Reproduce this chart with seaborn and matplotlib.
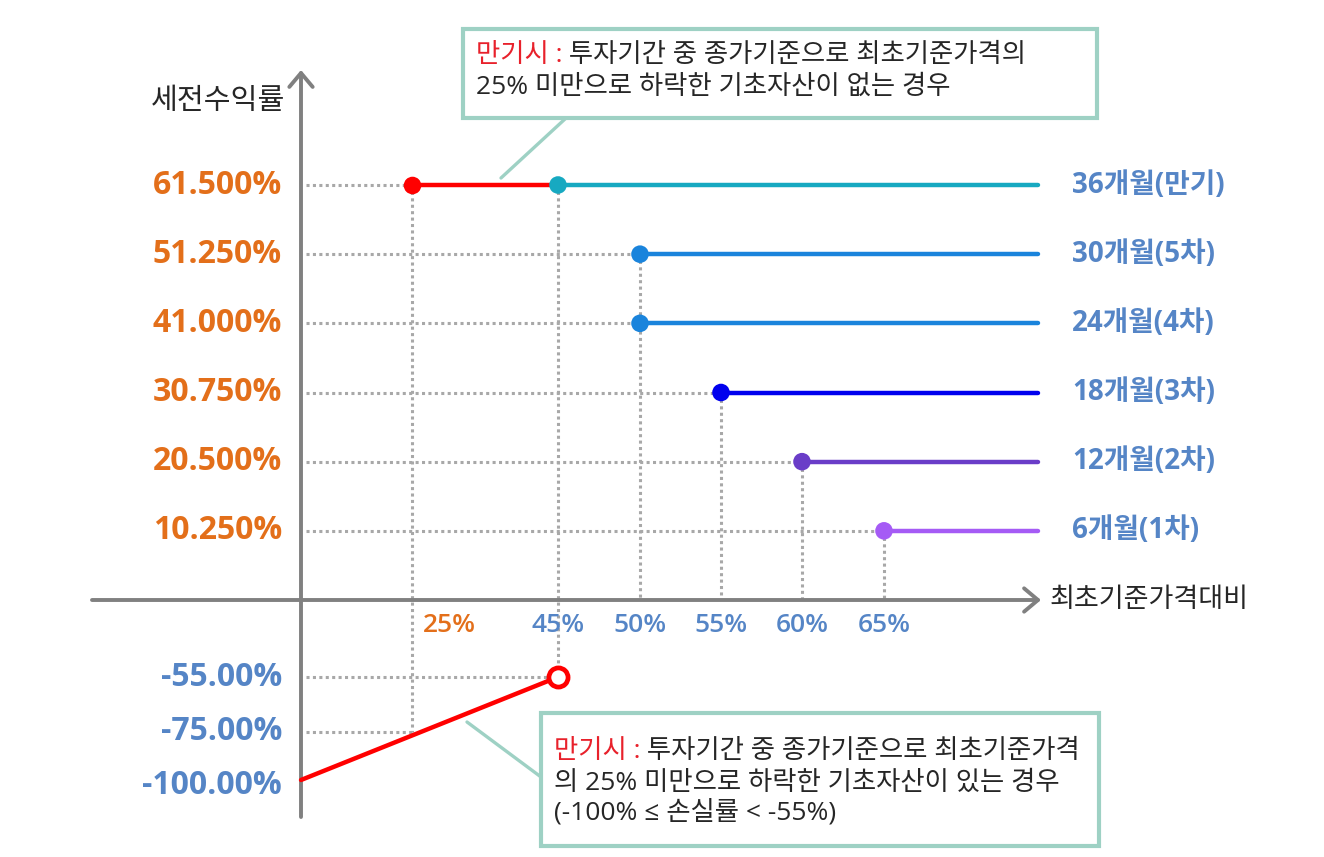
import numpy as np
import pandas as pd
import matplotlib
matplotlib.use("Agg")
import matplotlib.pyplot as plt
import seaborn as sns
from matplotlib.patches import Rectangle
from matplotlib.lines import Line2D
from matplotlib.text import Annotation

# ---------------- data ----------------
periods = ["6개월(1차)", "12개월(2차)", "18개월(3차)", "24개월(4차)", "30개월(5차)", "36개월(만기)"]
barriers = [65, 60, 55, 50, 50, 45]              # % of initial price
returns = [10.25, 20.5, 30.75, 41.0, 51.25, 61.5]  # pre-tax return %
return_labels = ["10.250%", "20.500%", "30.750%", "41.000%", "51.250%", "61.500%"]
series_colors = ["#A55BF5", "#6A3DC8", "#0000EE", "#1A84DC", "#1A84DC", "#17A9C1"]

knock_in = 25                     # 25% knock-in barrier
loss_x = [0, 45]                  # loss line at maturity
loss_y = [-100, -55]
neg_values = [-55, -75, -100]
neg_labels = ["-55.00%", "-75.00%", "-100.00%"]

x_ticks = [25, 45, 50, 55, 60, 65]
x_tick_labels = ["25%", "45%", "50%", "55%", "60%", "65%"]

y_title = "세전수익률"
x_title = "최초기준가격대비"
box1_red = "만기시 :"
box1_lines = [" 투자기간 중 종가기준으로 최초기준가격의", "25% 미만으로 하락한 기초자산이 없는 경우"]
box2_red = "만기시 :"
box2_lines = [" 투자기간 중 종가기준으로 최초기준가격", "의 25% 미만으로 하락한 기초자산이 있는 경우",
              "(-100% ≤ 손실률 < -55%)"]

# ---------------- style ----------------
W, H = 1324, 857
sns.set_theme(style="white")
FAM = ["Open Sans", "Noto Sans CJK KR", "DejaVu Sans"]
plt.rcParams["font.family"] = FAM

ORANGE = "#E36F1A"
BLUE = "#5585C6"
DARK = "#262626"
RED = "#FF0000"
GRAY_AX = "#808080"
GRAY_DOT = "#A8A8A8"
BOX = "#9ED1C4"

fig = plt.figure(figsize=(W / 100, H / 100), dpi=100)
ax = fig.add_axes([0, 0, 1, 1])
ax.set_axis_off()


def piecewise(vals, pxs):
    v = np.asarray(vals, float)
    p = np.asarray(pxs, float)
    s0 = (p[1] - p[0]) / (v[1] - v[0])
    s1 = (p[-1] - p[-2]) / (v[-1] - v[-2])
    big = 1e4
    v = np.r_[v[0] - big, v, v[-1] + big]
    p = np.r_[p[0] - big * s0, p, p[-1] + big * s1]
    return (lambda a: np.interp(a, v, p)), (lambda a: np.interp(a, p, v))


# layout of the (non-linear) axes: value -> pixel
fx, ix = piecewise([0, 25, 45, 50, 55, 60, 65], [301, 412, 558, 640, 721, 802, 884])
fy, iy = piecewise([-100, -75, -55, 0, 61.5], [H - 780, H - 732, H - 677, H - 600, H - 185])

# ---------------- series lines ----------------
x_line_end = float(ix(1038))
seg = pd.DataFrame({
    "period": [p for p in periods for _ in range(2)],
    "x": [v for b in barriers for v in (b, x_line_end)],
    "y": [r for r in returns for _ in range(2)],
})
pal = dict(zip(periods, series_colors))
sns.lineplot(data=seg, x="x", y="y", hue="period", palette=pal, estimator=None,
             sort=False, legend=False, lw=3.2, ax=ax, zorder=4)

# red segment at maturity (no knock-in) and loss line (knock-in)
red = pd.DataFrame({
    "grp": ["a", "a", "b", "b"],
    "x": [knock_in, barriers[-1], loss_x[0], loss_x[1]],
    "y": [returns[-1], returns[-1], loss_y[0], loss_y[1]],
})
sns.lineplot(data=red, x="x", y="y", units="grp", estimator=None, sort=False,
             color=RED, lw=3.2, legend=False, ax=ax, zorder=4)

# ---------------- dotted guides ----------------
dot_kw = dict(color=GRAY_DOT, lw=2.2, ls=(0, (1, 1.1)), dash_capstyle="butt", zorder=2)
x_dot_start = float(ix(306))
for b, r in zip(barriers[:-1], returns[:-1]):
    ax.plot([x_dot_start, b], [r, r], **dot_kw)
ax.plot([x_dot_start, knock_in], [returns[-1], returns[-1]], **dot_kw)
ax.plot([x_dot_start, loss_x[1]], [loss_y[1], loss_y[1]], **dot_kw)
ax.plot([x_dot_start, knock_in], [knock_in - 100, knock_in - 100], **dot_kw)
tops = {}
for b, r in zip(barriers, returns):
    tops[b] = max(tops.get(b, -1e9), r)
for b, r in tops.items():
    bottom = loss_y[1] if b == loss_x[1] else 0
    ax.plot([b, b], [r, bottom], **dot_kw)
ax.plot([knock_in, knock_in], [returns[-1], knock_in - 100], **dot_kw)

# ---------------- markers ----------------
sns.scatterplot(x=barriers, y=returns, hue=periods, palette=pal, s=160, linewidth=0,
                legend=False, ax=ax, zorder=6)
sns.scatterplot(x=[knock_in], y=[returns[-1]], color=RED, s=160, linewidth=0,
                legend=False, ax=ax, zorder=6)
sns.scatterplot(x=[loss_x[1]], y=[loss_y[1]], s=190, facecolor="white", edgecolor=RED,
                linewidth=3.4, legend=False, ax=ax, zorder=6)

# ---------------- axes arrows ----------------
arrow_kw = dict(arrowstyle="->,head_length=0.5,head_width=0.42", lw=2.8, color=GRAY_AX,
                shrinkA=0, shrinkB=0, mutation_scale=20)
ax.annotate("", xy=(float(ix(1041)), 0), xytext=(float(ix(92)), 0),
            arrowprops=arrow_kw, zorder=3)
ax.annotate("", xy=(0, float(iy(H - 70))), xytext=(0, float(iy(H - 817))),
            arrowprops=arrow_kw, zorder=3)

# ---------------- tick labels ----------------
for r, lab in zip(returns, return_labels):
    ax.annotate(lab, xy=(0, r), xytext=(-19, 0), textcoords="offset pixels",
                ha="right", va="center", fontsize=23, fontweight="bold", color=ORANGE)
for v, lab in zip(neg_values, neg_labels):
    dy = -5 if v == loss_y[0] else 0
    ax.annotate(lab, xy=(0, v), xytext=(-19, dy), textcoords="offset pixels",
                ha="right", va="center", fontsize=23, fontweight="bold", color=BLUE)
for v, lab in zip(x_ticks, x_tick_labels):
    dx = 37 if v == knock_in else 0
    ax.annotate(lab, xy=(v, 0), xytext=(dx, -26), textcoords="offset pixels",
                ha="center", va="center", fontsize=19, fontweight="semibold",
                color=ORANGE if v == knock_in else BLUE)
for p, r in zip(periods, returns):
    ax.annotate(p, xy=(x_line_end, r), xytext=(34, 0), textcoords="offset pixels",
                ha="left", va="center", fontsize=20, fontweight="bold", color=BLUE)

# axis titles
ax.annotate(y_title, xy=(0, float(iy(H - 101))), xytext=(-16, 0), textcoords="offset pixels",
            ha="right", va="center", fontsize=21, color=DARK)
ax.annotate(x_title, xy=(float(ix(1050)), 0), ha="left", va="center",
            fontsize=19.5, color=DARK)


# ---------------- callout boxes ----------------
def P(x, y):
    return (x / W, 1 - y / H)


def box(x0, y0, x1, y1):
    fig.add_artist(Rectangle(P(x0, y1), (x1 - x0) / W, (y1 - y0) / H, transform=fig.transFigure,
                             facecolor="white", edgecolor=BOX, lw=3, zorder=8))


def callout(p0, p1):
    fig.add_artist(Line2D([P(*p0)[0], P(*p1)[0]], [P(*p0)[1], P(*p1)[1]],
                          transform=fig.transFigure, color=BOX, lw=2.4, zorder=7))


BOX_FS = 19


def box_text(x, baselines, red_txt, lines):
    t = fig.text(*P(x, baselines[0]), red_txt, ha="left", va="baseline",
                 fontsize=BOX_FS, color="#E8212B", zorder=9)
    rest = Annotation(lines[0], xy=(1, 0), xycoords=t, ha="left", va="bottom",
                      fontsize=BOX_FS, color=DARK, zorder=9)
    fig.add_artist(rest)
    for yb, ln in zip(baselines[1:], lines[1:]):
        fig.text(*P(x, yb), ln, ha="left", va="baseline", fontsize=BOX_FS, color=DARK, zorder=9)


callout((565, 119), (501, 178))
box(463, 29, 1097, 118)
box_text(476, [62, 94], box1_red, box1_lines)

callout((467, 722), (541, 777))
box(541, 713, 1099, 846)
box_text(554, [758, 790, 819], box2_red, box2_lines)

ax.set_xscale("function", functions=(fx, ix))
ax.set_yscale("function", functions=(fy, iy))
ax.set_xlim(float(ix(0)), float(ix(W)))
ax.set_ylim(float(iy(0)), float(iy(H)))

fig.savefig("out.png", dpi=100, facecolor="white")
